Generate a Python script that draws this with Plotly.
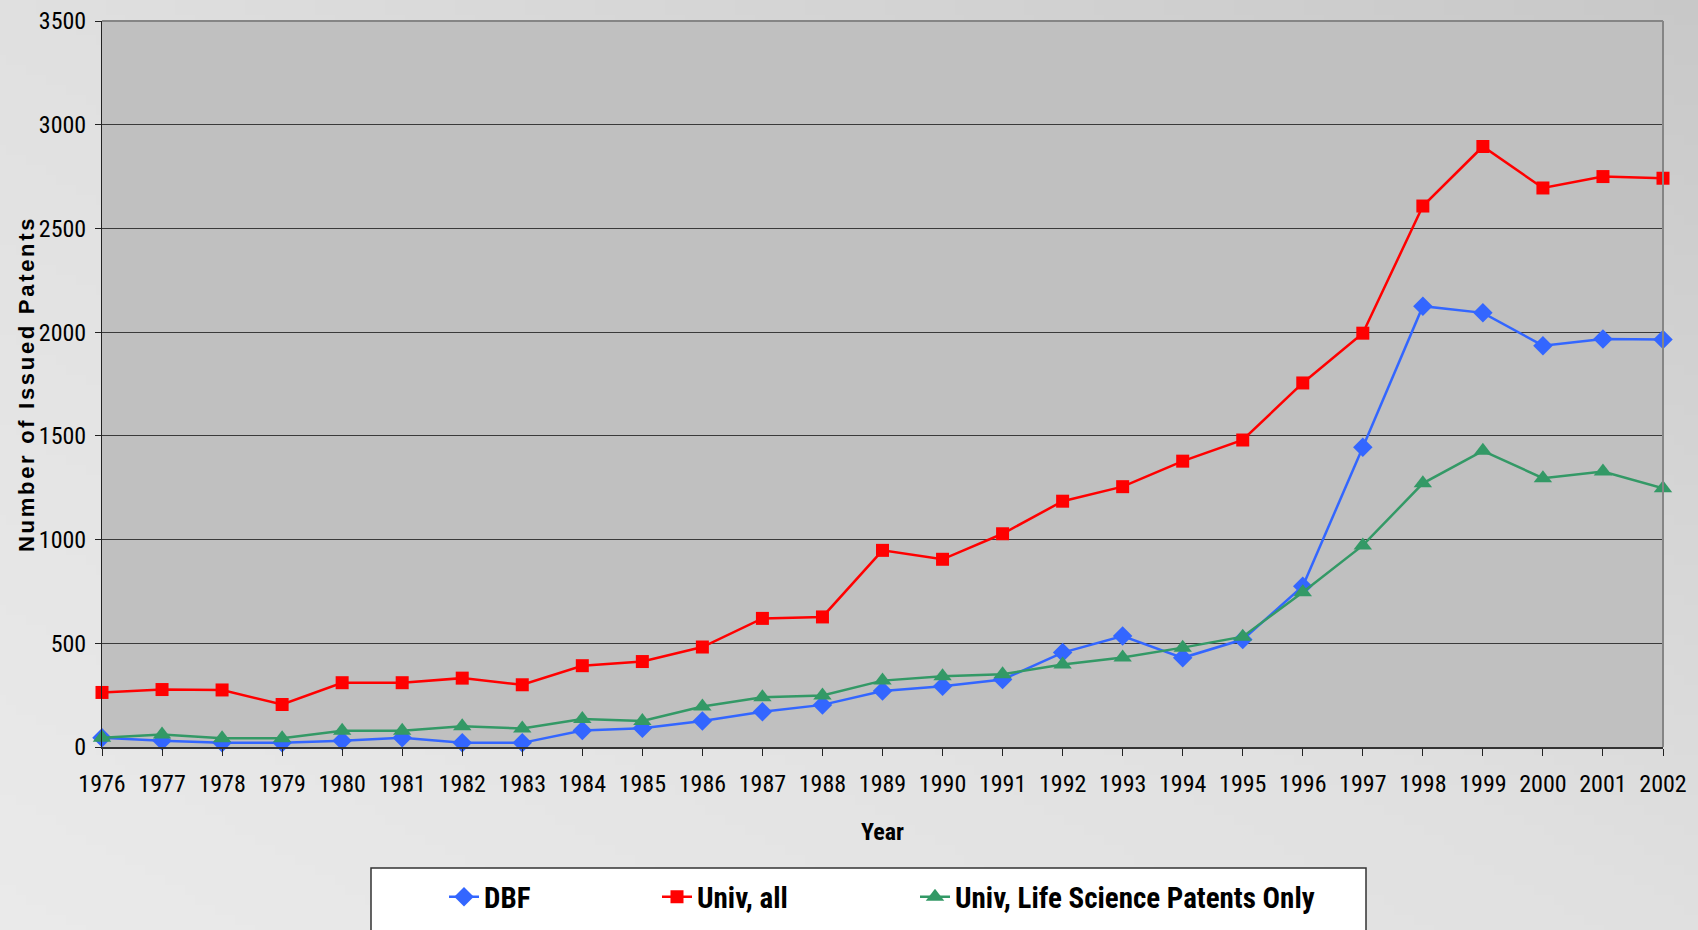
import base64
import struct
import zlib
import plotly.graph_objects as go

# Issued patents per year, 1976-2002
years = list(range(1976, 2003))
dbf = [45, 30, 20, 20, 30, 45, 20, 20, 80, 90, 125, 170, 203, 270, 293, 325,
       455, 535, 430, 518, 775, 1445, 2125, 2093, 1935, 1967, 1965]
univ_all = [263, 277, 275, 205, 310, 310, 332, 300, 392, 412, 482, 620, 627,
            948, 905, 1028, 1185, 1255, 1378, 1480, 1755, 1995, 2608, 2895,
            2695, 2750, 2742]
univ_life = [45, 60, 42, 42, 78, 78, 100, 89, 135, 125, 195, 240, 248, 320,
             341, 351, 398, 432, 479, 532, 746, 972, 1271, 1428, 1296, 1328, 1247]

series_names = ["DBF", "Univ, all", "Univ, Life Science Patents Only"]
y_ticks = [0, 500, 1000, 1500, 2000, 2500, 3000, 3500]

NARROW = "Liberation Sans Narrow, Arial Narrow, Roboto Condensed, Liberation Sans, sans-serif"
WIDE = "Liberation Sans, Arial, sans-serif"

W, H = 1698, 930
ML, MR, MT, MB = 102, 35, 21, 183
PW, PH = W - ML - MR, H - MT - MB


def px_x(px):
    return (px - ML) / PW


def px_y(py):
    return (H - MB - py) / PH


def gradient_png(w=170, h=93, c_low=0xEA, c_mid=0xE0, c_high=0xC8):
    """Small grey PNG shading from the lower-left corner to the upper-right."""
    rows = bytearray()
    for j in range(h):
        rows.append(0)
        for i in range(w):
            t = (i / (w - 1) + (1 - j / (h - 1))) / 2
            if t < 0.5:
                v = c_low + (c_mid - c_low) * (t / 0.5)
            else:
                v = c_mid + (c_high - c_mid) * ((t - 0.5) / 0.5)
            v = int(round(v))
            rows += bytes((v, v, v))

    def chunk(tag, data):
        c = struct.pack(">I", len(data)) + tag + data
        return c + struct.pack(">I", zlib.crc32(tag + data) & 0xFFFFFFFF)

    png = b"\x89PNG\r\n\x1a\n"
    png += chunk(b"IHDR", struct.pack(">IIBBBBB", w, h, 8, 2, 0, 0, 0))
    png += chunk(b"IDAT", zlib.compress(bytes(rows), 9))
    png += chunk(b"IEND", b"")
    return "data:image/png;base64," + base64.b64encode(png).decode()


fig = go.Figure()

styles = [
    dict(color="#3366FF", symbol="diamond", size=15, legend="legend"),
    dict(color="#FF0000", symbol="square", size=13, legend="legend2"),
    dict(color="#339966", symbol="triangle-up", size=16, legend="legend3"),
]
for name, vals, st in zip(series_names, [dbf, univ_all, univ_life], styles):
    fig.add_trace(go.Scatter(
        x=years, y=vals, name=name, mode="lines+markers",
        line=dict(color=st["color"], width=2.5),
        marker=dict(symbol=st["symbol"], size=st["size"], color=st["color"]),
        cliponaxis=False, legend=st["legend"],
    ))

legend_common = dict(
    orientation="h", yanchor="middle", xanchor="left",
    xref="container", yref="container",
    bgcolor="rgba(0,0,0,0)", borderwidth=0,
    font=dict(family=NARROW, size=29, color="black", weight="bold"),
)
LEG_Y = 1 - 897 / H

fig.update_layout(
    width=W, height=H,
    margin=dict(l=ML, r=MR, t=MT, b=MB, autoexpand=False),
    paper_bgcolor="#e0e0e0",
    plot_bgcolor="rgba(0,0,0,0)",
    showlegend=True,
    images=[dict(
        source=gradient_png(), xref="paper", yref="paper",
        x=px_x(0), y=px_y(0), sizex=W / PW, sizey=H / PH,
        xanchor="left", yanchor="top", sizing="stretch", layer="below",
    )],
    xaxis=dict(
        range=[1976, 2002], tickmode="array", tickvals=years,
        ticktext=[str(y) for y in years],
        ticks="outside", ticklen=7, tickwidth=1, tickcolor="#222",
        showline=True, linecolor="#333", linewidth=2,
        showgrid=False, zeroline=False,
        tickfont=dict(family=NARROW, size=24, color="black"),
        ticklabelstandoff=7,
    ),
    yaxis=dict(
        range=[0, 3500], tickmode="array", tickvals=y_ticks,
        ticks="outside", ticklen=6, tickwidth=1, tickcolor="#222",
        showline=True, linecolor="#222", linewidth=1,
        showgrid=True, gridcolor="#3a3a3a", gridwidth=1.2, zeroline=False,
        tickfont=dict(family=NARROW, size=24, color="black"),
        ticklabelstandoff=4,
    ),
    shapes=[
        # plot area fill
        dict(type="rect", xref="paper", yref="paper", x0=0, x1=1, y0=0, y1=1,
             fillcolor="#c0c0c0", line=dict(width=0), layer="below"),
        # top and right frame
        dict(type="line", xref="paper", yref="paper", x0=0, x1=1, y0=1, y1=1,
             line=dict(color="#858585", width=2), layer="above"),
        dict(type="line", xref="paper", yref="paper", x0=1, x1=1, y0=0, y1=1,
             line=dict(color="#858585", width=2), layer="above"),
        # legend box
        dict(type="rect", xref="paper", yref="paper",
             x0=px_x(371), x1=px_x(1366), y0=px_y(868), y1=px_y(945),
             fillcolor="white", line=dict(color="#333", width=1.5), layer="above"),
    ],
    annotations=[
        dict(text='<span style="letter-spacing:2.7px">Number of Issued Patents</span>',
             xref="paper", yref="paper", x=px_x(26), y=px_y(384),
             textangle=-90, showarrow=False, xanchor="center", yanchor="middle",
             font=dict(family=WIDE, size=22, color="black", weight="bold")),
        dict(text="Year", xref="paper", yref="paper", x=px_x(882), y=px_y(832),
             showarrow=False, xanchor="center", yanchor="middle",
             font=dict(family=NARROW, size=24, color="black", weight="bold")),
    ],
    legend=dict(x=444 / W, y=LEG_Y, **legend_common),
    legend2=dict(x=657 / W, y=LEG_Y, **legend_common),
    legend3=dict(x=915 / W, y=LEG_Y, **legend_common),
)

fig.write_html("out.html")
